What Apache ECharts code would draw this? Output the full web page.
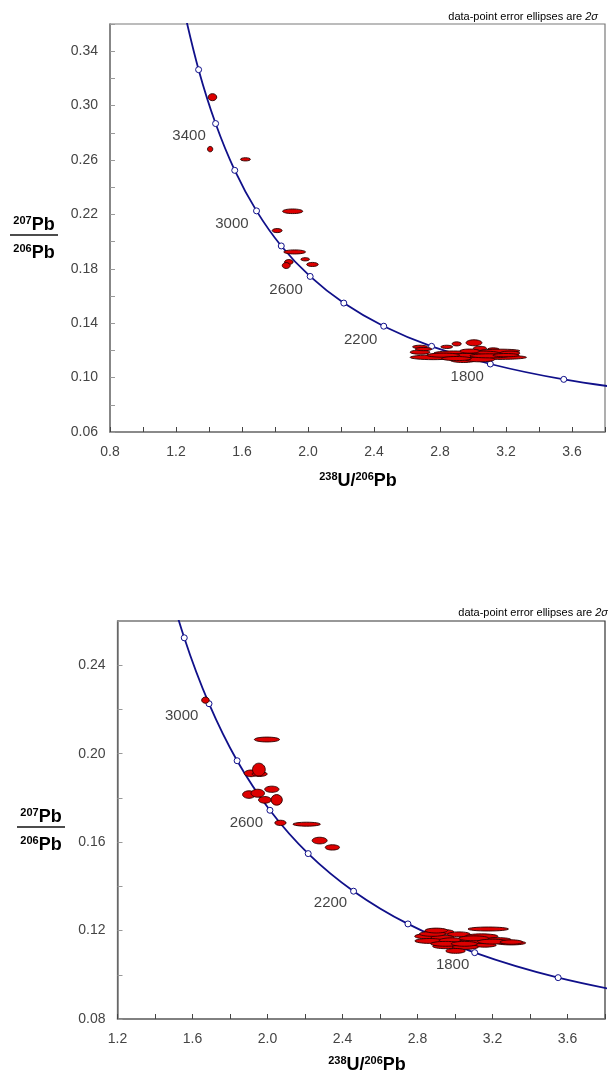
<!DOCTYPE html>
<html>
<head>
<meta charset="utf-8">
<script src="https://cdn.jsdelivr.net/npm/echarts@6/dist/echarts.min.js"></script>
<style>
  html, body { margin: 0; padding: 0; background: #fff; }
  #main { width: 608px; height: 1074px; }
</style>
</head>
<body>
<div id="main"></div>
<script>
// concordia age markers (Ma) and their positions, oldest first
let ages = [3800, 3600, 3400, 3200, 3000, 2800, 2600, 2400, 2200, 2000, 1800, 1600, 1400];
let concX = [1.245, 1.337, 1.440, 1.556, 1.688, 1.838, 2.013, 2.217, 2.459, 2.749, 3.105, 3.550, 4.123];
let concY = [0.3721, 0.3264, 0.2868, 0.2524, 0.2226, 0.1968, 0.1744, 0.1548, 0.1378, 0.1230, 0.1100, 0.0987, 0.0888];

// age labels, top panel
let topLabels = ['3400', '3000', '2600', '2200', '1800'];
let topLabelX = [1.279, 1.539, 1.867, 2.319, 2.965];
let topLabelY = [0.2774, 0.2133, 0.1648, 0.1281, 0.1002];
// age labels, bottom panel
let botLabels = ['3000', '2600', '2200', '1800'];
let botLabelX = [1.542, 1.887, 2.336, 2.987];
let botLabelY = [0.2171, 0.1685, 0.1325, 0.1044];

// error ellipses, top panel: centre and 2 sigma half axes
let topEllX = [1.421, 1.407, 1.621, 1.907, 1.813, 1.919, 1.983, 2.027, 1.884, 1.868,
  2.679, 2.841, 2.901, 3.006, 3.042, 3.123, 3.164, 2.881, 3.062, 2.679, 3.224, 2.759, 2.962, 3.164, 2.941, 3.042,
  2.700, 2.820, 3.100, 2.980, 3.200, 2.900];
let topEllY = [0.3062, 0.2680, 0.2605, 0.2223, 0.2081, 0.1924, 0.1870, 0.1832, 0.1850, 0.1824,
  0.1226, 0.1226, 0.1248, 0.1256, 0.1215, 0.1207, 0.1197, 0.1178, 0.1173, 0.1187, 0.1180, 0.1149, 0.1158, 0.1149, 0.1129, 0.1134,
  0.1210, 0.1165, 0.1160, 0.1195, 0.1165, 0.1140];
let topEllRx = [0.026, 0.016, 0.030, 0.061, 0.030, 0.066, 0.026, 0.035, 0.026, 0.024,
  0.045, 0.036, 0.028, 0.048, 0.040, 0.036, 0.120, 0.120, 0.110, 0.060, 0.060, 0.140, 0.120, 0.160, 0.080, 0.090,
  0.050, 0.100, 0.120, 0.060, 0.080, 0.090];
let topEllRy = [0.0026, 0.0020, 0.0012, 0.0017, 0.0015, 0.0015, 0.0012, 0.0015, 0.0018, 0.0022,
  0.0012, 0.0012, 0.0015, 0.0022, 0.0015, 0.0012, 0.0012, 0.0018, 0.0022, 0.0015, 0.0015, 0.0017, 0.0020, 0.0015, 0.0018, 0.0018,
  0.0012, 0.0015, 0.0015, 0.0015, 0.0012, 0.0015];

// error ellipses, bottom panel
let botEllX = [1.669, 1.997, 1.912, 1.958, 1.954, 2.023, 1.901, 1.948, 1.986, 2.049, 2.069, 2.209, 2.278, 2.346,
  3.177, 2.916, 3.021, 3.142, 2.846, 2.934, 3.229, 2.864, 2.986, 3.090, 3.299, 3.159, 2.951, 3.055, 3.003,
  2.880, 3.100, 3.200, 2.950, 3.050, 2.900, 3.300];
let botEllY = [0.2242, 0.2064, 0.1911, 0.1908, 0.1928, 0.1839, 0.1815, 0.1821, 0.1791, 0.1791, 0.1687, 0.1681, 0.1607, 0.1576,
  0.1207, 0.1194, 0.1183, 0.1174, 0.1174, 0.1168, 0.1159, 0.1153, 0.1156, 0.1149, 0.1144, 0.1134, 0.1129, 0.1126, 0.1108,
  0.1185, 0.1165, 0.1150, 0.1140, 0.1140, 0.1200, 0.1148];
let botEllRx = [0.020, 0.067, 0.036, 0.040, 0.034, 0.038, 0.034, 0.036, 0.034, 0.030, 0.030, 0.073, 0.040, 0.038,
  0.108, 0.078, 0.061, 0.087, 0.061, 0.061, 0.070, 0.078, 0.070, 0.070, 0.078, 0.061, 0.070, 0.070, 0.052,
  0.070, 0.080, 0.080, 0.080, 0.070, 0.060, 0.060];
let botEllRy = [0.0014, 0.0011, 0.0015, 0.0011, 0.0029, 0.0014, 0.0017, 0.0018, 0.0015, 0.0024, 0.0012, 0.0009, 0.0015, 0.0012,
  0.0009, 0.0012, 0.0011, 0.0011, 0.0011, 0.0011, 0.0009, 0.0011, 0.0011, 0.0011, 0.0009, 0.0009, 0.0011, 0.0011, 0.0011,
  0.0011, 0.0011, 0.0011, 0.0011, 0.0011, 0.0011, 0.0010];

let FONT = '"Liberation Sans", Arial, sans-serif';
let CURVE = '#10108a';

function zip() {
  let arrs = Array.prototype.slice.call(arguments);
  return arrs[0].map(function (v, i) { return arrs.map(function (a) { return a[i]; }); });
}

function ellipseItem(params, api) {
  let c = api.coord([api.value(0), api.value(1)]);
  let s = api.size([api.value(2), api.value(3)]);
  return {
    type: 'ellipse',
    shape: { cx: c[0], cy: c[1], rx: s[0], ry: s[1] },
    style: { fill: '#dd0000', stroke: '#2a0000', lineWidth: 0.9 }
  };
}

// show a label only every second tick
function tickFmt(min, step, digits) {
  return function (v) {
    let k = Math.round((v - min) / step);
    return k % 2 === 0 ? v.toFixed(digits) : '';
  };
}

function xAxis(idx, min) {
  return {
    type: 'value', gridIndex: idx, min: min, max: 3.8, interval: 0.2,
    axisLine: { lineStyle: { color: '#7a7a7a', width: 1.5 } },
    axisTick: { inside: true, length: 5, lineStyle: { color: '#444' } },
    axisLabel: { formatter: tickFmt(min, 0.2, 1), fontFamily: FONT, fontSize: 14, color: '#444', margin: 13 },
    splitLine: { show: false }
  };
}

function yAxis(idx, min, max) {
  return {
    type: 'value', gridIndex: idx, min: min, max: max, interval: 0.02,
    axisLine: { show: true, lineStyle: { color: '#7a7a7a', width: 1.5 } },
    axisTick: { show: true, inside: true, length: 5, lineStyle: { color: '#999' } },
    axisLabel: { formatter: tickFmt(min, 0.02, 2), fontFamily: FONT, fontSize: 14, color: '#444', margin: 12 },
    splitLine: { show: false }
  };
}

function concordia(idx) {
  return {
    type: 'line', xAxisIndex: idx, yAxisIndex: idx, z: 2,
    data: zip(concX, concY),
    smooth: 0.35, clip: true,
    symbol: 'circle', symbolSize: 6, showSymbol: true,
    lineStyle: { color: CURVE, width: 1.8 },
    itemStyle: { color: '#fff', borderColor: CURVE, borderWidth: 1 },
    silent: true, animation: false
  };
}

function ellipses(idx, xs, ys, rxs, rys) {
  return {
    type: 'custom', xAxisIndex: idx, yAxisIndex: idx, z: 3,
    data: zip(xs, ys, rxs, rys),
    encode: { x: 0, y: 1 },
    renderItem: ellipseItem, clip: true, animation: false
  };
}

function ageLabels(idx, xs, ys, names) {
  return {
    type: 'scatter', xAxisIndex: idx, yAxisIndex: idx, z: 4,
    data: zip(xs, ys), symbolSize: 1, itemStyle: { color: 'rgba(0,0,0,0)' },
    label: {
      show: true, position: 'inside', color: '#111', fontFamily: FONT, fontSize: 15,
      formatter: function (p) { return names[p.dataIndex]; }
    },
    silent: true, animation: false
  };
}

function pbRich(size) {
  return {
    s: { fontFamily: FONT, fontSize: 11, fontWeight: 'bold', color: '#111', verticalAlign: 'top', lineHeight: 20 },
    b: { fontFamily: FONT, fontSize: size, fontWeight: 'bold', color: '#111', lineHeight: 20 },
    n: { fontFamily: FONT, fontSize: 11, color: '#333' },
    i: { fontFamily: FONT, fontSize: 11, fontStyle: 'italic', color: '#333' }
  };
}

// y title as a fraction, x title below the axis, note above the plot
function titles(fracX, fracY, xt, note) {
  return [
    { type: 'text', x: fracX, y: fracY - 10, style: { text: '{s|207}{b|Pb}', rich: pbRich(18), align: 'center', verticalAlign: 'middle' } },
    { type: 'line', shape: { x1: fracX - 24, y1: fracY, x2: fracX + 24, y2: fracY }, style: { stroke: '#111', lineWidth: 1.5 } },
    { type: 'text', x: fracX, y: fracY + 18, style: { text: '{s|206}{b|Pb}', rich: pbRich(18), align: 'center', verticalAlign: 'middle' } },
    { type: 'text', x: xt[0], y: xt[1], style: { text: '{s|238}{b|U/}{s|206}{b|Pb}', rich: pbRich(18), align: 'center', verticalAlign: 'middle' } },
    { type: 'text', x: note[0], y: note[1], style: { text: '{n|data-point error ellipses are }{i|2σ}', rich: pbRich(18), align: 'right', verticalAlign: 'middle' } }
  ];
}

let option = {
  backgroundColor: '#fff',
  animation: false,
  grid: [
    { left: 110, top: 24, width: 495, height: 408, show: true, borderColor: '#7a7a7a', borderWidth: 1.2 },
    { left: 117.5, top: 621, width: 499, height: 398, show: true, borderColor: '#333', borderWidth: 1.2 }
  ],
  xAxis: [xAxis(0, 0.8), xAxis(1, 1.2)],
  yAxis: [yAxis(0, 0.06, 0.36), yAxis(1, 0.08, 0.26)],
  series: [
    concordia(0),
    ellipses(0, topEllX, topEllY, topEllRx, topEllRy),
    ageLabels(0, topLabelX, topLabelY, topLabels),
    concordia(1),
    ellipses(1, botEllX, botEllY, botEllRx, botEllRy),
    ageLabels(1, botLabelX, botLabelY, botLabels)
  ],
  graphic: titles(34, 235, [358, 481], [598, 17])
    .concat(titles(41, 827, [367, 1065], [608, 613]))
};

let myChart = echarts.init(document.getElementById('main'), null, { renderer: 'canvas' });
myChart.setOption(option);
</script>
</body>
</html>
